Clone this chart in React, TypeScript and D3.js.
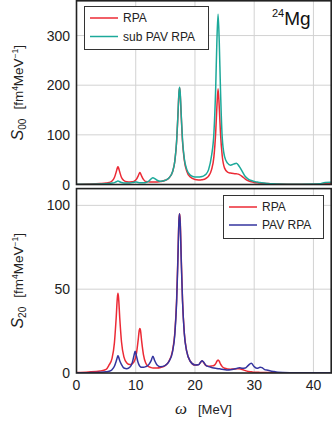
import React, { useEffect, useRef } from 'react';
import * as d3 from 'd3';

// excitation energy grid (MeV), shared by all curves
const omega = [
  0, 2, 4, 5, 5.5, 6, 6.4, 6.7, 6.9, 7.0,
  7.1, 7.3, 7.6, 8, 8.5, 9, 9.4, 9.7, 9.9, 10.1,
  10.4, 10.6, 10.7, 10.8, 11.0, 11.3, 11.7, 12.2, 12.6, 12.9,
  13.2, 13.6, 14.2, 15, 15.6, 16.2, 16.6, 16.9, 17.1, 17.3,
  17.4, 17.5, 17.7, 17.9, 18.2, 18.6, 19.2, 20, 20.6, 21,
  21.2, 21.4, 21.8, 22.3, 22.8, 23.2, 23.5, 23.7, 23.9, 24.1,
  24.3, 24.6, 25, 25.5, 26, 26.5, 27, 27.5, 28, 28.5,
  29, 29.5, 30, 30.5, 31, 31.3, 31.7, 32.3, 33, 34,
  36, 38, 40, 41, 42, 43,
];

// S00, RPA
const s00Rpa = [
  0.5, 1, 2, 3, 4, 7, 14, 25, 33.5, 36,
  33.5, 25, 14, 8, 5.5, 5, 5.3, 6.4, 7.8, 10.3,
  17, 22.5, 24, 22.5, 17, 10.3, 5.8, 5.5, 4.8, 4.8,
  5, 5.2, 6, 8.5, 13, 25, 47, 86, 133, 183,
  195, 183, 133, 86, 49, 27, 15, 10, 9.1, 9.2,
  9.6, 10, 12, 17, 30, 56, 105, 156, 193, 156,
  105, 58, 33, 25, 23, 22, 21.5, 20, 16, 11,
  7.5, 5.5, 4.2, 3.4, 2.8, 2.5, 2.2, 1.8, 1.5, 1.1,
  0.7, 0.5, 0.6, 0.8, 1.5, 1.8,
];

// S00, sub PAV RPA
const s00SubPav = [
  0.3, 0.5, 1, 1.5, 2, 2.8, 3.8, 5.5, 6.8, 7,
  6.8, 5.5, 4, 3.2, 3, 3.2, 3.8, 4.6, 5, 4.8,
  4, 3.6, 3.5, 3.4, 3.3, 3.4, 4.2, 7, 11.5, 13.5,
  12, 8.5, 6.5, 8.5, 13, 25, 47, 87, 134, 186,
  196, 186, 136, 90, 52, 31, 19, 15, 15, 15.5,
  16, 17, 20, 30, 58, 104, 195, 288, 343, 288,
  195, 95, 56, 43, 39, 41, 43, 36, 26, 16,
  11, 8, 6, 5, 4, 3.5, 3, 2.2, 1.5, 1,
  0.6, 0.5, 0.8, 1.5, 4, 4.5,
];

// S20, RPA
const s20Rpa = [
  0.3, 0.6, 1.2, 2.2, 4.8, 8.7, 18, 33, 45, 47.5,
  45, 33, 18.5, 9.6, 6, 5, 5.5, 6.6, 8.3, 11.2,
  19.3, 25.5, 26.6, 25.5, 19, 11, 5.8, 3.8, 3.2, 3,
  3, 3, 3.3, 4.5, 7, 13, 24, 43.5, 67, 91.5,
  95, 91.5, 67, 43.5, 24, 13, 7, 4.7, 5, 6.6,
  7.2, 6.6, 4.6, 4, 4.2, 4.5, 5.6, 7, 7.7, 7,
  5.4, 3.8, 2.8, 2.4, 2.3, 2.4, 2.5, 2.6, 2.1, 1.4,
  0.9, 0.7, 0.5, 0.4, 0.35, 0.3, 0.3, 0.25, 0.2, 0.2,
  0.15, 0.1, 0.1, 0.1, 0.1, 0.1,
];

// S20, PAV RPA
const s20Pav = [
  0.1, 0.2, 0.4, 0.7, 1, 2, 4, 7, 9.4, 10.3,
  9.6, 7.3, 5, 3, 2.6, 3.4, 6, 10.3, 13, 10.5,
  6.2, 4.5, 4, 3.7, 3.4, 3.4, 3.8, 5, 7.4, 10,
  7.4, 4.8, 3.7, 4.5, 6.8, 12.5, 23, 42, 65, 91,
  95, 90, 65, 43, 23.5, 13, 7, 4.8, 4.9, 6.7,
  7.3, 6.8, 4.8, 3.8, 3.3, 3, 2.8, 2.7, 2.6, 2.5,
  2.4, 2.2, 2, 1.8, 1.9, 2.2, 2.7, 3.2, 2.8, 3,
  4.6, 5.8, 3.8, 2.8, 3.4, 3.2, 2.2, 1.6, 1.1, 0.4,
  0.2, 0.15, 0.1, 0.1, 0.1, 0.1,
];

const xTicks = [0, 10, 20, 30, 40];
const s00Ticks = [0, 100, 200, 300];
const s20Ticks = [0, 50, 100];

const RED = '#ec2a35';
const TEAL = '#1ca99a';
const BLUE = '#34349f';
const FONT = '"Liberation Sans", Arial, sans-serif';

function App() {
  const svgRef = useRef(null);

  useEffect(() => {
    const svg = d3.select(svgRef.current);
    svg.selectAll('*').remove();

    const left = 76.5, right = 331.2;
    const x = d3.scaleLinear().domain([0, 43]).range([left, right]);

    const panels = [
      {
        id: 'top', y0: 184.5, y1: 0.8, max: 370, ticks: s00Ticks, sub: '00',
        series: [{ v: s00Rpa, c: RED, name: 'RPA' }, { v: s00SubPav, c: TEAL, name: 'sub PAV RPA' }],
      },
      {
        id: 'bot', y0: 373, y1: 188.6, max: 110, ticks: s20Ticks, sub: '20',
        series: [{ v: s20Rpa, c: RED, name: 'RPA' }, { v: s20Pav, c: BLUE, name: 'PAV RPA' }],
      },
    ];

    panels.forEach(p => {
      const y = d3.scaleLinear().domain([0, p.max]).range([p.y0, p.y1]);
      const g = svg.append('g');

      g.append('clipPath').attr('id', 'clip-' + p.id)
        .append('rect')
        .attr('x', left).attr('y', p.y1)
        .attr('width', right - left).attr('height', p.y0 - p.y1);

      // grid
      g.selectAll('.vx').data(xTicks.filter(t => t > 0)).join('line')
        .attr('x1', d => x(d)).attr('x2', d => x(d))
        .attr('y1', p.y1).attr('y2', p.y0)
        .attr('stroke', '#d2d2d2').attr('stroke-width', 1);
      g.selectAll('.hy').data(p.ticks.filter(t => t > 0)).join('line')
        .attr('x1', left).attr('x2', right)
        .attr('y1', d => y(d)).attr('y2', d => y(d))
        .attr('stroke', '#d2d2d2').attr('stroke-width', 1);

      // y tick labels
      g.selectAll('.yl').data(p.ticks).join('text')
        .attr('x', 70).attr('y', d => y(d) + 5)
        .attr('text-anchor', 'end')
        .attr('font-family', FONT).attr('font-size', 14).attr('fill', '#222')
        .text(d => d);

      const line = d3.line()
        .x((d, i) => x(omega[i]))
        .y(d => y(d))
        .curve(d3.curveMonotoneX);

      const cg = g.append('g').attr('clip-path', `url(#clip-${p.id})`);
      p.series.forEach(s => {
        cg.append('path').datum(s.v)
          .attr('d', line)
          .attr('fill', 'none').attr('stroke', s.c).attr('stroke-width', 1.5);
      });

      // frame
      g.append('rect')
        .attr('x', left).attr('y', p.y1)
        .attr('width', right - left).attr('height', p.y0 - p.y1)
        .attr('fill', 'none').attr('stroke', '#222').attr('stroke-width', 1.6);

      // y label
      const t = g.append('text')
        .attr('transform', `translate(23,${(p.y0 + p.y1) / 2}) rotate(-90)`)
        .attr('text-anchor', 'middle')
        .attr('font-family', FONT).attr('font-size', 13.5).attr('fill', '#222');
      t.append('tspan').attr('font-style', 'italic').attr('font-size', 16).text('S');
      t.append('tspan').attr('font-size', 10).attr('dy', 3).text(p.sub);
      t.append('tspan').attr('dy', -3).attr('dx', 9).text('[fm');
      t.append('tspan').attr('font-size', 8.5).attr('dy', -5).text('4');
      t.append('tspan').attr('dy', 5).text('MeV');
      t.append('tspan').attr('font-size', 8.5).attr('dy', -5).text('\u22121');
      t.append('tspan').attr('dy', 5).text(']');
    });

    // legends
    const legend = (bx, by, bw, bh, items, lx, rows) => {
      const lg = svg.append('g');
      lg.append('rect').attr('x', bx).attr('y', by).attr('width', bw).attr('height', bh)
        .attr('fill', 'white').attr('stroke', '#333').attr('stroke-width', 1);
      items.forEach((s, i) => {
        lg.append('line').attr('x1', lx).attr('x2', lx + 28)
          .attr('y1', rows[i]).attr('y2', rows[i])
          .attr('stroke', s.c).attr('stroke-width', 1.5);
        lg.append('text').attr('x', lx + 33).attr('y', rows[i] + 4.3)
          .attr('font-family', FONT).attr('font-size', 12).attr('fill', '#222')
          .text(s.name);
      });
    };
    legend(84.5, 6.5, 124, 43, panels[0].series, 90, [18, 36.5]);
    legend(223.5, 195.5, 100, 43, panels[1].series, 229, [207, 225]);

    // nucleus label
    const mg = svg.append('text').attr('x', 272).attr('y', 25)
      .attr('font-family', FONT).attr('fill', '#111');
    mg.append('tspan').attr('font-size', 11).attr('dy', -8).text('24');
    mg.append('tspan').attr('font-size', 19).attr('dy', 8).text('Mg');

    // x ticks
    svg.selectAll('.xl').data(xTicks).join('text')
      .attr('x', d => x(d)).attr('y', 390)
      .attr('text-anchor', 'middle')
      .attr('font-family', FONT).attr('font-size', 14).attr('fill', '#222')
      .text(d => d);

    // x label
    const xl = svg.append('text').attr('x', 175).attr('y', 414).attr('fill', '#222');
    xl.append('tspan').attr('font-family', '"Liberation Serif", serif')
      .attr('font-style', 'italic').attr('font-size', 17).text('\u03c9');
    xl.append('tspan').attr('x', 198).attr('font-family', FONT).attr('font-size', 13).text('[MeV]');
  }, []);

  return (
    <svg ref={svgRef} width={332} height={422}
      style={{ position: 'absolute', left: 0, top: 0, background: 'white' }} />
  );
}

export default App;
